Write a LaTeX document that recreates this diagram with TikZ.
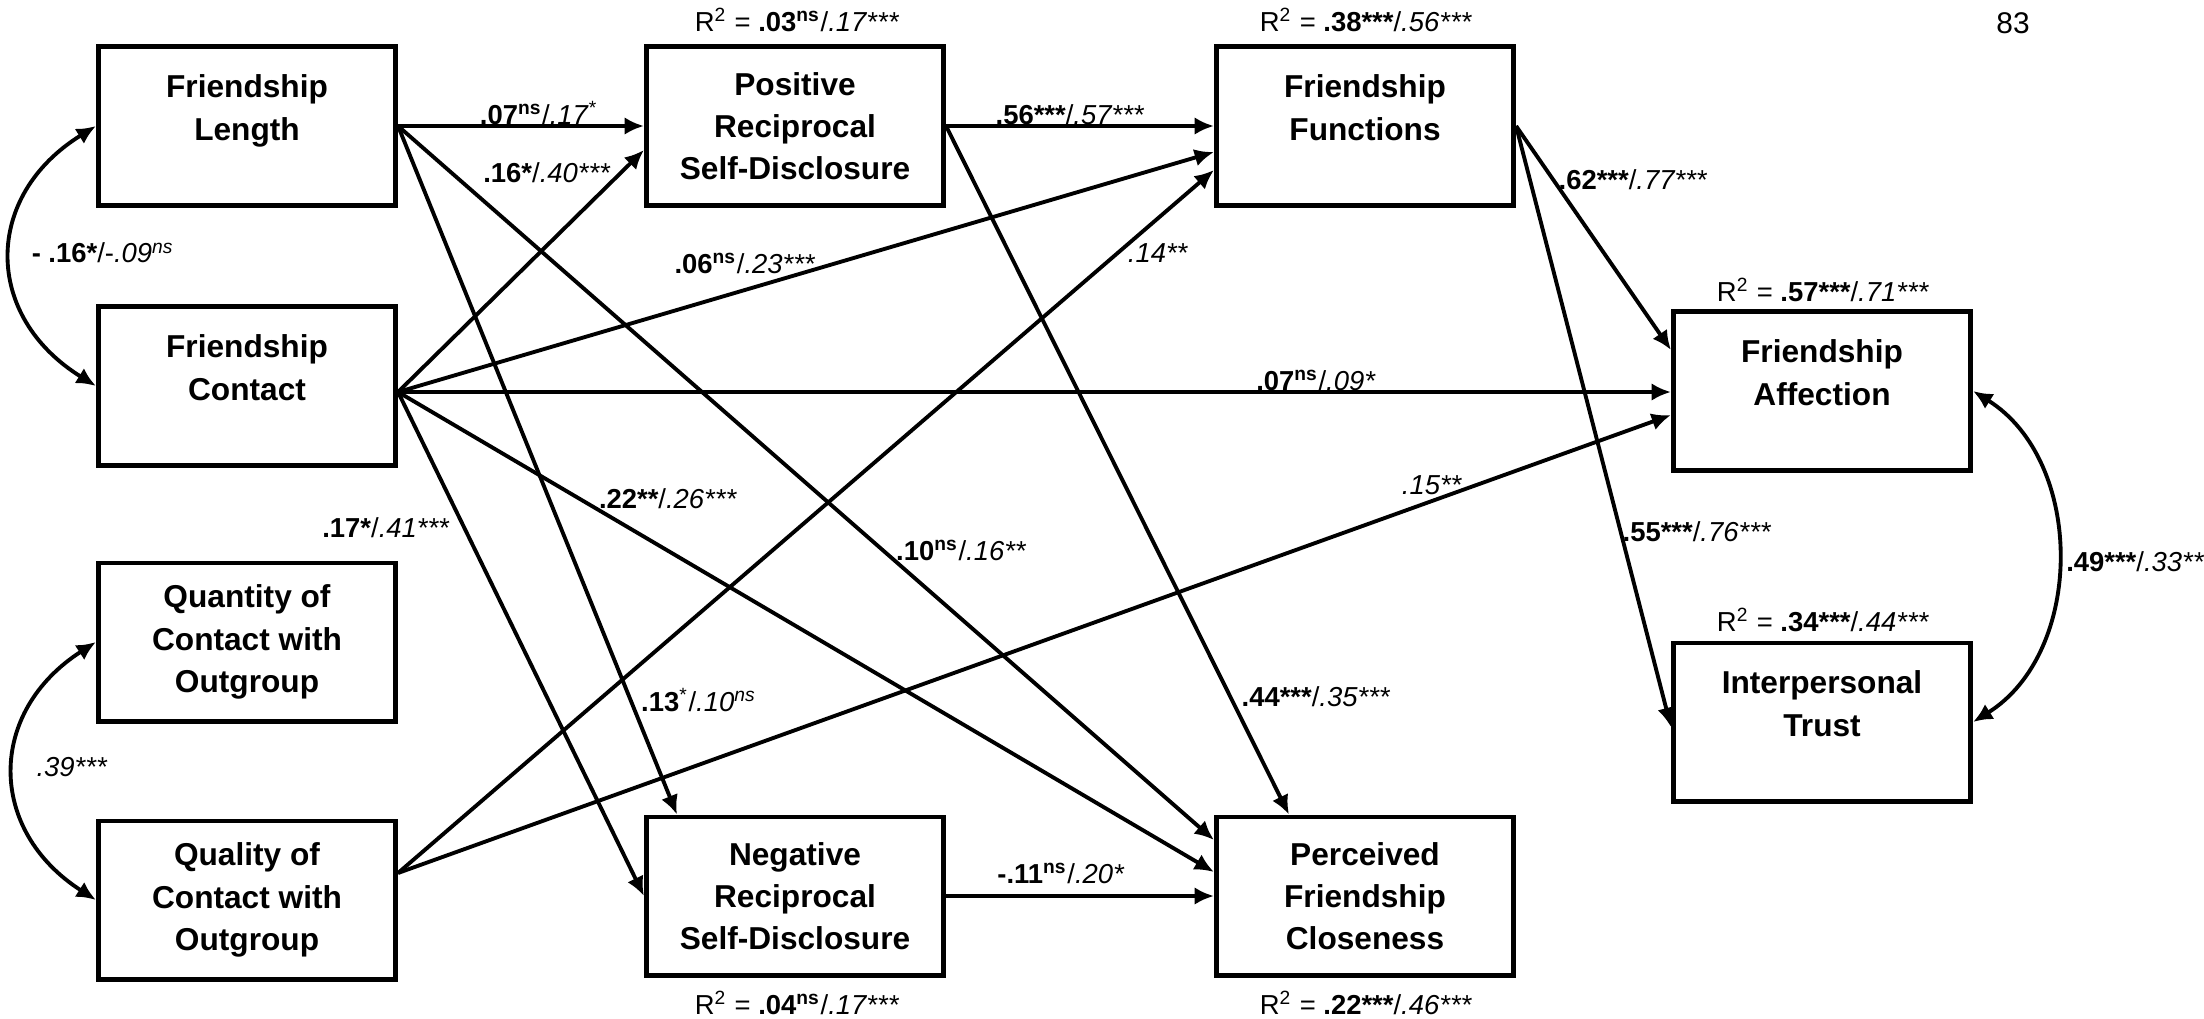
\documentclass[tikz,border=0pt]{standalone}
\usepackage{fontspec}
\setmainfont{Liberation Sans}
\usetikzlibrary{arrows.meta}
\tikzset{
var/.style={ % boxes of the measured variables
draw, line width=1.4pt,
minimum width=2.97cm, minimum height=1.58cm,
inner sep=0pt, align=center,
font=\fontsize{9}{12}\selectfont\bfseries},
coef/.style={ % path coefficients and R squares
inner sep=1pt,
font=\fontsize{7.8}{9.4}\selectfont},
>={Latex[length=5.5pt,width=5pt]},
eff/.style={draw, line width=1.1pt, ->},
cov/.style={draw, line width=1.1pt, <->}}

\begin{document}
\begin{tikzpicture}[x=0.01cm, y=-0.01cm]
	\useasboundingbox (0,0) rectangle (2204,1018);
	% predictors
	\node[var] (flen) at (247,126) {Friendship\\Length\\[-1.5pt]\mbox{}};
	\node[var] (fcon) at (247,386) {Friendship\\Contact\\[-1.5pt]\mbox{}};
	\node[var] (quan) at (247,642) {Quantity of\\Contact with\\Outgroup};
	\node[var] (qual) at (247,900) {Quality of\\Contact with\\Outgroup};
	% mediators and outcomes
	\node[var] (pos) at (795,126) {Positive\\Reciprocal\\Self-Disclosure};
	\node[var] (neg) at (795,896) {Negative\\Reciprocal\\Self-Disclosure};
	\node[var] (func) at (1365,126) {Friendship\\Functions\\[-1.5pt]\mbox{}};
	\node[var] (clos) at (1365,896) {Perceived\\Friendship\\Closeness};
	\node[var] (aff) at (1822,391) {Friendship\\Affection\\[-1.5pt]\mbox{}};
	\node[var] (trust) at (1822,722) {Interpersonal\\Trust\\[-1.5pt]\mbox{}};
	\node[font=\fontsize{8.5}{10}\selectfont] (page) at (2013,23) {83};

	\coordinate (fcout) at ([yshift=-0.06cm]fcon.east);
	\coordinate (qlout) at ([yshift=0.27cm]qual.east);

	% paths
	\draw[eff] (flen.east) -- (pos.west);
	\draw[eff] (flen.east) -- ([xshift=-1.18cm]neg.north);
	\draw[eff] (flen.east) -- ([yshift=0.56cm]clos.west);
	\draw[eff] (fcout) -- ([yshift=-0.24cm]pos.west);
	\draw[eff] (fcout) -- ([yshift=-0.26cm]func.west);
	\draw[eff] (fcout) -- (fcout -| aff.west);
	\draw[eff] (fcout) -- (neg.west);
	\draw[eff] (fcout) -- ([yshift=0.24cm]clos.west);
	\draw[eff] (qlout) -- ([yshift=-0.44cm]func.west);
	\draw[eff] (qlout) -- ([yshift=-0.24cm]aff.west);
	\draw[eff] (pos.east) -- (func.west);
	\draw[eff] (pos.east) -- ([xshift=-0.76cm]clos.north);
	\draw[eff] (neg.east) -- (clos.west);
	\draw[eff] (func.east) -- ([yshift=0.41cm]aff.west);
	\draw[eff] (func.east) -- ([yshift=-0.05cm]trust.west);
	% correlations
	\draw[cov] (flen.west) .. controls +(-113,70) and +(-113,-70) .. (fcon.west);
	\draw[cov] (quan.west) .. controls +(-109,70) and +(-109,-70) .. (qual.west);
	\draw[cov] (aff.east) .. controls +(112,70) and +(112,-70) .. (trust.east);

	% coefficients
	\node[coef] (c-flpos) at (539,113) {\textbf{.07\textsuperscript{ns}}/\textit{.17}\textsuperscript{*}};
	\node[coef] (c-fcpos) at (547,173) {\textbf{.16*}/\textit{.40***}};
	\node[coef] (c-flfc) at (103,253) {\textbf{- .16*}/-\textit{.09\textsuperscript{ns}}};
	\node[coef] (c-fcfu) at (745,263) {\textbf{.06\textsuperscript{ns}}/\textit{.23***}};
	\node[coef] (c-posfu) at (1070,115) {\textbf{.56***}/\textit{.57***}};
	\node[coef] (c-qlfu) at (1158,253) {\textit{.14**}};
	\node[coef] (c-fcaff) at (1316,380) {\textbf{.07\textsuperscript{ns}}/\textit{.09*}};
	\node[coef] (c-fuaff) at (1633,180) {\textbf{.62***}/\textit{.77***}};
	\node[coef] (c-qlaff) at (1432,485) {\textit{.15**}};
	\node[coef] (c-futr) at (1697,532) {\textbf{.55***}/\textit{.76***}};
	\node[coef, anchor=west] (c-afftr) at (2062,562) {\textbf{.49***}/\textit{.33**}};
	\node[coef] (c-qq) at (72,767) {\textit{.39***}};
	\node[coef] (c-fcneg) at (386,528) {\textbf{.17*}/\textit{.41***}};
	\node[coef] (c-fccl) at (668,499) {\textbf{.22**}/\textit{.26***}};
	\node[coef, anchor=west] (c-flneg) at (637,700) {\textbf{.13}\textsuperscript{*}/\textit{.10\textsuperscript{ns}}};
	\node[coef, anchor=west] (c-flcl) at (892,550) {\textbf{.10\textsuperscript{ns}}/\textit{.16**}};
	\node[coef] (c-poscl) at (1316,697) {\textbf{.44***}/\textit{.35***}};
	\node[coef] (c-negcl) at (1061,873) {\textbf{-.11\textsuperscript{ns}}/\textit{.20*}};
	% explained variance
	\node[coef] (r-pos) at (797,20) {R\textsuperscript{2} = \textbf{.03\textsuperscript{ns}}/\textit{.17***}};
	\node[coef] (r-func) at (1366,20) {R\textsuperscript{2} = \textbf{.38***}/\textit{.56***}};
	\node[coef] (r-aff) at (1823,290) {R\textsuperscript{2} = \textbf{.57***}/\textit{.71***}};
	\node[coef] (r-trust) at (1823,620) {R\textsuperscript{2} = \textbf{.34***}/\textit{.44***}};
	\node[coef] (r-neg) at (797,1003) {R\textsuperscript{2} = \textbf{.04\textsuperscript{ns}}/\textit{.17***}};
	\node[coef] (r-clos) at (1366,1003) {R\textsuperscript{2} = \textbf{.22***}/\textit{.46***}};
\end{tikzpicture}
\end{document}
